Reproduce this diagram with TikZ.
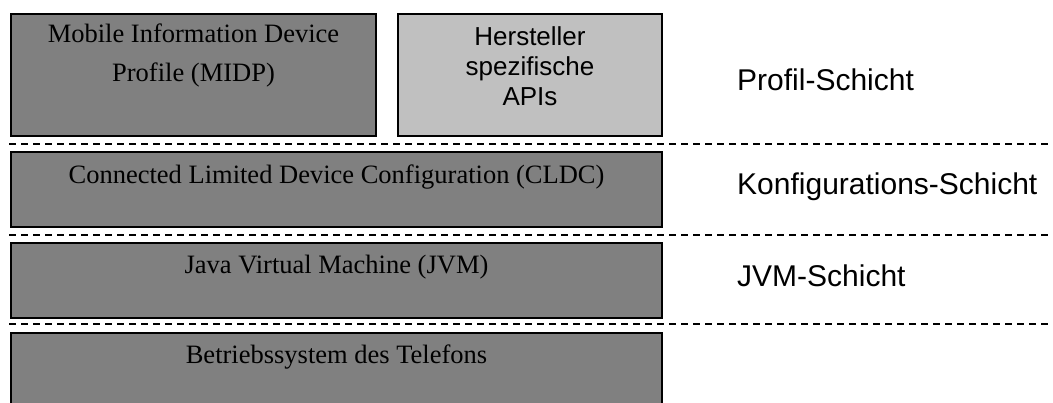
\documentclass[tikz,border=0pt]{standalone}
\usepackage{fontspec}
\setmainfont{Liberation Serif}
\newfontfamily\labelfont{Liberation Sans}
\definecolor{layergray}{HTML}{808080}
\definecolor{vendorgray}{HTML}{C0C0C0}
\begin{document}
\begin{tikzpicture}[x=1pt,y=-1pt,
  layerbox/.style={draw=black, line width=2pt, fill=layergray, inner sep=0pt, anchor=north west},
  vendorbox/.style={layerbox, fill=vendorgray},
  serifcap/.style={font=\fontsize{26.5}{39}\selectfont, align=center, anchor=base, inner sep=0pt},
  sanscap/.style={font=\labelfont\fontsize{26}{30}\selectfont, align=center, anchor=base, inner sep=0pt},
  layername/.style={font=\labelfont\fontsize{30}{36}\selectfont, anchor=base west, inner sep=0pt},
  separator/.style={draw=black, line width=2pt, dash pattern=on 7pt off 5pt}]
\clip (0,0) rectangle (1053,403);

% stack of layer boxes
\node[layerbox, minimum width=365pt, minimum height=122pt] (midp) at (10,13) {};
\node[vendorbox, minimum width=264pt, minimum height=122pt] (vendor) at (397,13) {};
\node[layerbox, minimum width=651pt, minimum height=75pt] (cldc) at (10,151) {};
\node[layerbox, minimum width=651pt, minimum height=75pt] (jvm) at (10,242) {};
\node[layerbox, minimum width=651pt, minimum height=90pt] (os) at (10,332) {};

% box captions (multi-line nodes are placed by the baseline of their last line)
\node[serifcap] (midpText) at (midp.north |- 0,82) {Mobile Information Device\\Profile (MIDP)};
\node[sanscap] (vendorText) at (vendor.north |- 0,106) {Hersteller\\spezifische\\APIs};
\node[serifcap] (cldcText) at (cldc.north |- 0,184) {Connected Limited Device Configuration (CLDC)};
\node[serifcap] (jvmText) at (jvm.north |- 0,274) {Java Virtual Machine (JVM)};
\node[serifcap] (osText) at (os.north |- 0,364) {Betriebssystem des Telefons};

% layer separators
\coordinate (sepAl) at (9,144);  \coordinate (sepAr) at (1053,144);
\coordinate (sepBl) at (9,235);  \coordinate (sepBr) at (1053,235);
\coordinate (sepCl) at (9,324);  \coordinate (sepCr) at (1053,324);
\draw[separator] (sepAl) -- (sepAr);
\draw[separator] (sepBl) -- (sepBr);
\draw[separator] (sepCl) -- (sepCr);

% layer names
\node[layername] (profil) at (737,91) {Profil-Schicht};
\node[layername] (konfig) at (737,195) {Konfigurations-Schicht};
\node[layername] (jvmLayer) at (737,287) {JVM-Schicht};
\end{tikzpicture}
\end{document}
